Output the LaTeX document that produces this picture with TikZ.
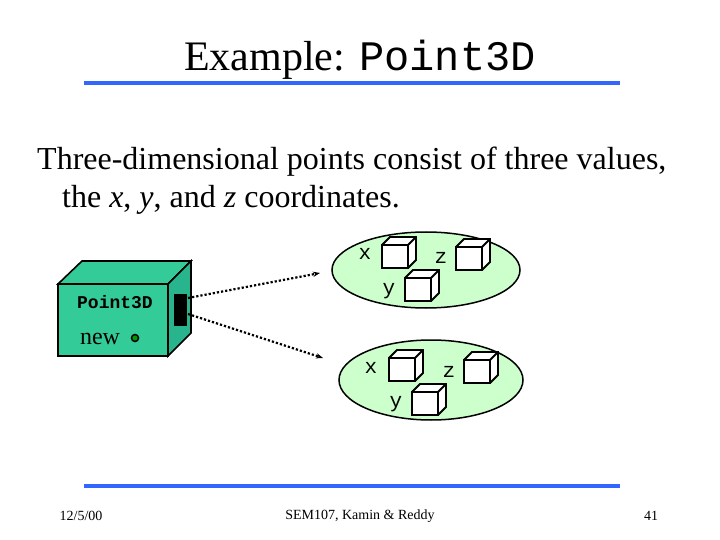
\documentclass[tikz,border=0pt]{standalone}
\usepackage{fontspec}
\setmainfont{Liberation Serif}
\setmonofont{Liberation Mono}
\usetikzlibrary{shapes.geometric,arrows.meta}
\begin{document}
\begin{tikzpicture}[x=1pt,y=-1pt,
  ell/.style={draw,line width=1.5pt,fill=green!20!white},
  cube/.style={line width=1.8pt},
  lbl/.style={font=\ttfamily\fontsize{21}{21}\selectfont,inner sep=0},
  arr/.style={line width=2.2pt,dotted,-{Stealth[length=7pt]}}]
\useasboundingbox (0,0) rectangle (720,540);
\definecolor{teal1}{RGB}{51,204,153}
\definecolor{teal2}{RGB}{40,180,140}
\definecolor{blu}{RGB}{51,102,255}
% title
\node (title) at (360,60) {\fontsize{42}{42}\selectfont Example: \texttt{Point3D}};
\draw[blu,line width=3.5pt] (84,83) -- (620,83);
\node[anchor=west,align=left,font=\fontsize{32}{38}\selectfont,inner sep=0] (body) at (37,181)
 {Three-dimensional points consist of three values,\\\hspace{25pt}the \textit{x}, \textit{y}, and \textit{z} coordinates.};
% box
\draw[line width=1.6pt,fill=teal1] (58,284) -- (82,261) -- (191,261) -- (168,284) -- cycle;
\draw[line width=1.6pt,fill=teal2] (168,284) -- (191,261) -- (191,333) -- (168,356) -- cycle;
\draw[line width=1.6pt,fill=teal1] (58,284) rectangle (168,356);
\fill (174,294) rectangle (187,326);
\node[font=\ttfamily\bfseries\fontsize{18}{18}\selectfont] (pname) at (115,302) {Point3D};
\node[font=\fontsize{24}{24}\selectfont] (new) at (100,339) {new};
\draw[line width=1.5pt,fill=green!60!black] (135,338) circle (3.5);
\coordinate (s1) at (188,298); \coordinate (s2) at (188,314);
% ellipses
\node[ell,ellipse,minimum width=188pt,minimum height=76pt] (e1) at (426,270) {};
\node[ell,ellipse,minimum width=184pt,minimum height=80pt] (e2) at (431,380) {};
\coordinate (t1) at (320,273); \coordinate (t2) at (323,358);
\draw[arr] (s1) -- (t1);
\draw[arr] (s2) -- (t2);
\foreach \x/\y in {382/245,456/247,405/278,389/358,464/360,412/392}{
  \draw[cube,fill=white] (\x,\y) -- ++(8,-8) -- ++(26,0) -- ++(0,23) -- ++(-8,8) -- ++(-26,0) -- cycle;
  \draw[cube] (\x,\y) rectangle ++(26,23) (\x+26,\y) -- ++(8,-8);
}
\node[lbl] (x1) at (365,254) {x}; \node[lbl] (z1) at (441,258) {z}; \node[lbl] (y1) at (389,291) {y};
\node[lbl] (x2) at (371,368) {x}; \node[lbl] (z2) at (449,372) {z}; \node[lbl] (y2) at (396,404) {y};
% footer
\draw[blu,line width=3.5pt] (84,486) -- (620,486);
\node[font=\fontsize{14}{14}\selectfont] (date) at (81,516) {12/5/00};
\node[font=\fontsize{14}{14}\selectfont] (course) at (360,516) {SEM107, Kamin \& Reddy};
\node[font=\fontsize{14}{14}\selectfont] (pg) at (651,516) {41};
\end{tikzpicture}
\end{document}
